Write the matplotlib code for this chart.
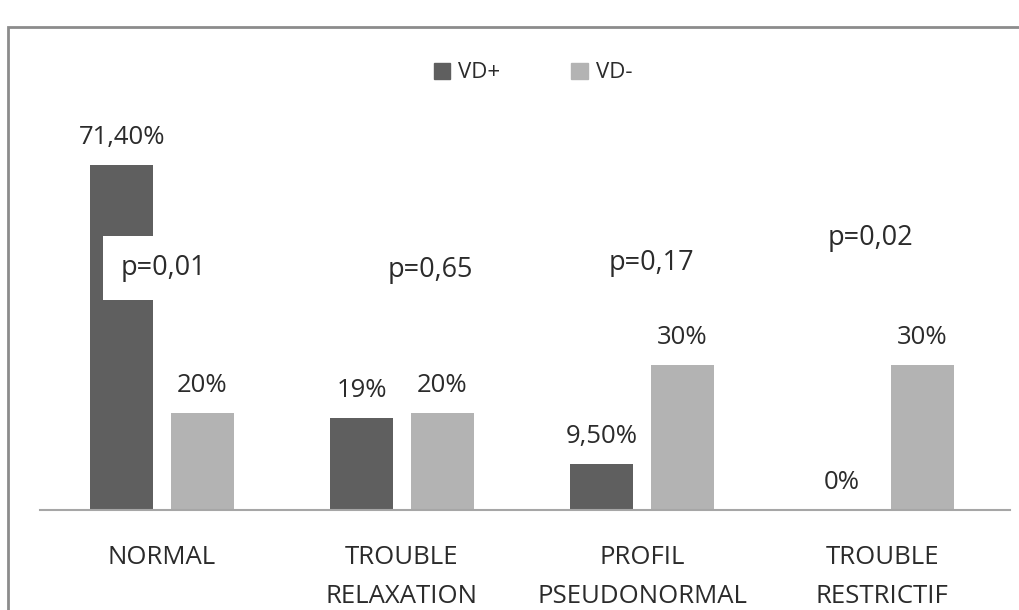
import matplotlib
matplotlib.use("Agg")
from matplotlib import pyplot as plt
from matplotlib.patches import Rectangle, Patch
import numpy as np

categories = ["NORMAL", "TROUBLE\nRELAXATION", "PROFIL\nPSEUDONORMAL", "TROUBLE\nRESTRICTIF"]
vd_plus = [71.4, 19, 9.5, 0]
vd_minus = [20, 20, 30, 30]
labels_plus = ["71,40%", "19%", "9,50%", "0%"]
labels_minus = ["20%", "20%", "30%", "30%"]
p_values = ["p=0,01", "p=0,65", "p=0,17", "p=0,02"]
p_pos = [(0.005, 50.1), (1.117, 49.7), (2.04, 51.1), (2.95, 56.3)]

dark = "#5f5f5f"
light = "#b3b3b3"
txt = "#2b2b2b"

plt.rcParams['font.family'] = ['Open Sans', 'DejaVu Sans']

fig = plt.figure(figsize=(10.19, 6.10), dpi=100)
ax = fig.add_axes([40 / 1019, 100 / 610, 970 / 1019, 0.64])

x = np.arange(len(categories))
w = 0.2625
off = 0.167
ax.bar(x - off, vd_plus, w, color=dark, label="VD+")
ax.bar(x + off, vd_minus, w, color=light, label="VD-")

for i in range(len(categories)):
    ax.annotate(labels_plus[i], (x[i] - off, vd_plus[i]), xytext=(0, 20), textcoords="offset points",
                ha="center", va="center", fontsize=18.5, color=txt)
    ax.annotate(labels_minus[i], (x[i] + off, vd_minus[i]), xytext=(0, 20), textcoords="offset points",
                ha="center", va="center", fontsize=18.5, color=txt)
    ax.text(p_pos[i][0], p_pos[i][1], p_values[i], ha="center", va="center", fontsize=19.5, color=txt,
            bbox=dict(boxstyle="square,pad=0.65", fc="white", ec="none"))

ax.set_xlim(-0.508, 3.533)
ax.set_ylim(0, 0.64 * 610 / 4.83)
ax.set_xticks(x)
ax.set_xticklabels(categories, fontsize=18.5, color=txt, linespacing=1.75)
ax.tick_params(axis="x", length=0, pad=25)
ax.set_yticks([])
for s in ["top", "right", "left"]:
    ax.spines[s].set_visible(False)
ax.spines["bottom"].set_color("#a6a6a6")
ax.spines["bottom"].set_linewidth(1.5)

handles = [Patch(color=dark, label="VD+"), Patch(color=light, label="VD-")]
fig.legend(handles=handles, loc="center", bbox_to_anchor=(533 / 1019, 1 - 73 / 610), ncol=2,
           frameon=False, fontsize=16, handlelength=0.75, handleheight=0.75, handletextpad=0.35,
           columnspacing=3.2, labelcolor=txt)

fig.patches.append(Rectangle((8 / 1019, -0.1), 1.2, 1 - 27 / 610 + 0.1, transform=fig.transFigure,
                             fill=False, ec="#8c8c8c", lw=2, zorder=0))

plt.savefig("out.png", dpi=100)
